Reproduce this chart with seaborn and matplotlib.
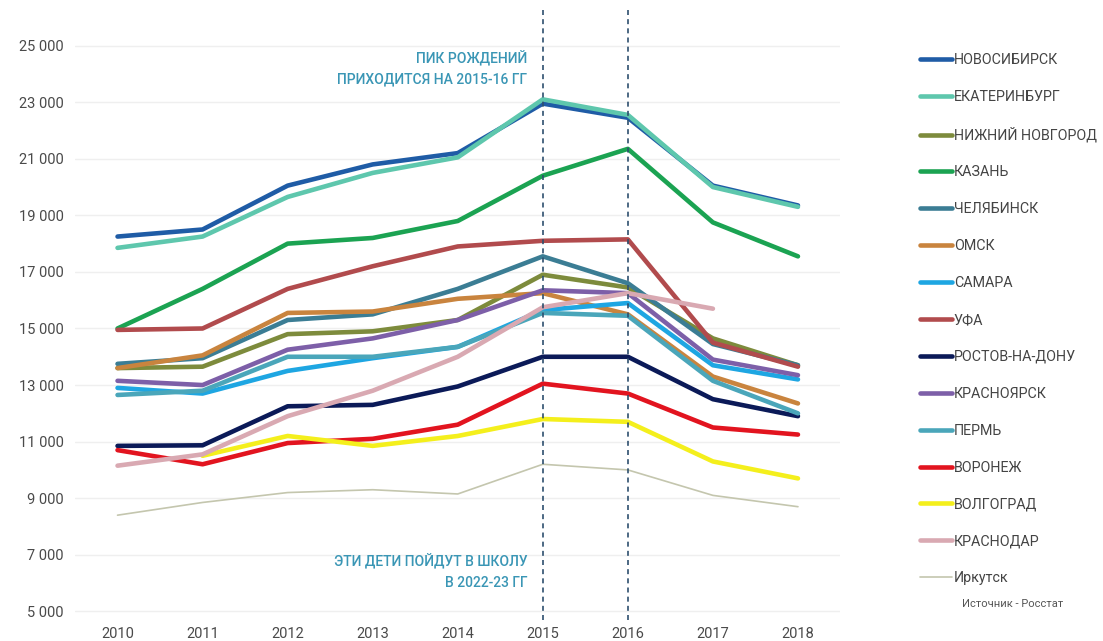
import numpy as np
import pandas as pd
import matplotlib
matplotlib.use("Agg")
import matplotlib.pyplot as plt
from matplotlib.lines import Line2D
import seaborn as sns

years = [2010, 2011, 2012, 2013, 2014, 2015, 2016, 2017, 2018]

cities = ["НОВОСИБИРСК", "ЕКАТЕРИНБУРГ", "НИЖНИЙ НОВГОРОД", "КАЗАНЬ", "ЧЕЛЯБИНСК",
          "ОМСК", "САМАРА", "УФА", "РОСТОВ-НА-ДОНУ", "КРАСНОЯРСК", "ПЕРМЬ",
          "ВОРОНЕЖ", "ВОЛГОГРАД", "КРАСНОДАР", "Иркутск"]

novosibirsk = [18250, 18500, 20050, 20800, 21200, 22950, 22450, 20050, 19350]
ekaterinburg = [17850, 18250, 19650, 20500, 21050, 23100, 22550, 20000, 19300]
nizhny = [13600, 13650, 14800, 14900, 15300, 16900, 16450, 14650, 13700]
kazan = [15000, 16400, 18000, 18200, 18800, 20400, 21350, 18750, 17550]
chelyabinsk = [13750, 13950, 15300, 15500, 16400, 17550, 16600, 14450, 13700]
omsk = [13600, 14050, 15550, 15600, 16050, 16250, 15500, 13300, 12350]
samara = [12900, 12700, 13500, 13950, 14350, 15650, 15900, 13700, 13200]
ufa = [14950, 15000, 16400, 17200, 17900, 18100, 18150, 14500, 13650]
rostov = [10850, 10870, 12250, 12300, 12950, 14000, 14000, 12500, 11900]
krasnoyarsk = [13150, 13000, 14250, 14650, 15300, 16350, 16250, 13900, 13350]
perm = [12650, 12800, 14000, 14000, 14350, 15550, 15450, 13150, 12000]
voronezh = [10700, 10200, 10950, 11100, 11600, 13050, 12700, 11500, 11250]
volgograd = [np.nan, 10500, 11200, 10850, 11200, 11800, 11700, 10300, 9700]
krasnodar = [10150, 10550, 11900, 12800, 14000, 15750, 16250, 15700, np.nan]
irkutsk = [8400, 8850, 9200, 9300, 9150, 10200, 10000, 9100, 8700]

series = [novosibirsk, ekaterinburg, nizhny, kazan, chelyabinsk, omsk, samara, ufa,
          rostov, krasnoyarsk, perm, voronezh, volgograd, krasnodar, irkutsk]

colors = ["#1f5ca6", "#5ec7ad", "#7d8b3c", "#1ba352", "#3b7d94", "#c9843e", "#1ea6e2",
          "#b14b4d", "#0b1a58", "#7d5fa8", "#4aa6ba", "#e2141f", "#f4ef1c", "#d9a9b2",
          "#c4c6ae"]

yticks = [5000, 7000, 9000, 11000, 13000, 15000, 17000, 19000, 21000, 23000, 25000]
ytick_labels = ["5 000", "7 000", "9 000", "11 000", "13 000", "15 000", "17 000",
                "19 000", "21 000", "23 000", "25 000"]
peak_years = [2015, 2016]

rows = []
for c, vals in zip(cities, series):
    for y, v in zip(years, vals):
        rows.append({"year": y, "city": c, "births": v})
df = pd.DataFrame(rows).dropna()

sns.set_theme(style="white")
plt.rcParams["font.family"] = ["Roboto", "DejaVu Sans"]

fig = plt.figure(figsize=(11.03, 6.41), dpi=100)
ax = fig.add_axes([0.068, 0.033, 0.694, 0.951])

palette = dict(zip(cities, colors))
sizes = {c: 3.3 for c in cities}
sizes["Иркутск"] = 1.2
sns.lineplot(data=df, x="year", y="births", hue="city", size="city",
             palette=palette, sizes=sizes, hue_order=cities, size_order=cities,
             legend=False, ax=ax, sort=True, estimator=None)

for py in peak_years:
    ax.axvline(py, color="#2d4f6e", lw=1.2, ls=(0, (3, 2.5)), zorder=5)

ax.set_xlim(2009.5, 2018.5)
ax.set_ylim(4700, 26250)
ax.set_xticks(years)
ax.set_xticklabels([str(y) for y in years])
ax.set_yticks(yticks)
ax.set_yticklabels(ytick_labels)
ax.grid(axis="y", color="#efefef", lw=1)
ax.grid(axis="x", visible=False)
for s in ax.spines.values():
    s.set_visible(False)
ax.tick_params(axis="both", length=0, labelsize=10.5, colors="#4a4a4a")
ax.tick_params(axis="y", pad=8)
ax.tick_params(axis="x", pad=5)
ax.set_xlabel("")
ax.set_ylabel("")

ann_color = "#3a96b5"
ax.text(2014.82, 24200, "ПИК РОЖДЕНИЙ\nПРИХОДИТСЯ НА 2015-16 ГГ", ha="right", va="center",
        fontsize=10, color=ann_color, linespacing=1.55, fontweight="medium")
ax.text(2014.82, 6400, "ЭТИ ДЕТИ ПОЙДУТ В ШКОЛУ\nВ 2022-23 ГГ", ha="right", va="center",
        fontsize=10, color=ann_color, linespacing=1.55, fontweight="medium")

handles = [Line2D([0], [0], color=col, lw=(1.2 if c == "Иркутск" else 3.3))
           for c, col in zip(cities, colors)]
leg = fig.legend(handles, cities, loc="upper left", bbox_to_anchor=(0.822, 0.937),
                 frameon=False, fontsize=10.3, handlelength=2.3, handletextpad=0.1,
                 labelspacing=1.6, labelcolor="#444444")

fig.text(0.872, 0.058, "Источник - Росстат", fontsize=8, color="#555555", ha="left",
         va="center")

fig.savefig("out.png", dpi=100)
